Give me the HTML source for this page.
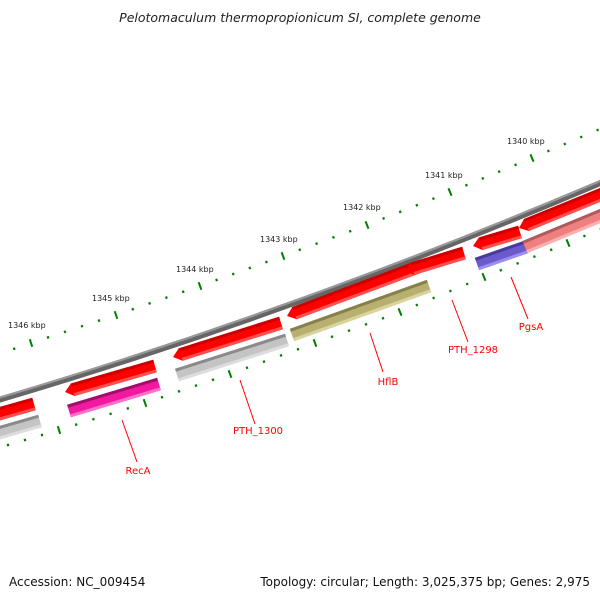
<!DOCTYPE html>
<html><head><meta charset="utf-8"><style>
html,body{margin:0;padding:0;background:#fff;}
svg{display:block;font-family:"DejaVu Sans","Liberation Sans",sans-serif;}
</style></head><body>
<svg id="s" width="600" height="600" viewBox="0 0 600 600" xmlns="http://www.w3.org/2000/svg">
<text x="300" y="22" text-anchor="middle" font-size="12.5" font-style="italic" fill="#222">Pelotomaculum thermopropionicum SI, complete genome</text>
<path d="M-5,401 Q300,311 605,181" fill="none" stroke="#666" stroke-width="6"/>
<path d="M-5,399 Q300,309 605,179" fill="none" stroke="#999" stroke-width="2"/>
<g id="genes"></g>
<g id="ticks"></g>
<g stroke="#f00" stroke-width="1">
<line x1="122" y1="420" x2="137" y2="462"/>
<line x1="240" y1="380" x2="255" y2="424"/>
<line x1="370" y1="333" x2="383" y2="372"/>
<line x1="452" y1="300" x2="468" y2="342"/>
<line x1="511" y1="277" x2="528" y2="319"/>
</g>
<g fill="#f00" font-size="10" text-anchor="middle">
<text x="138" y="474">RecA</text>
<text x="258" y="434">PTH_1300</text>
<text x="388" y="385">HflB</text>
<text x="473" y="353">PTH_1298</text>
<text x="531" y="330">PgsA</text>
</g>
<g fill="#222" font-size="8">
<text x="8" y="328">1346 kbp</text>
<text x="92" y="301">1345 kbp</text>
<text x="176" y="272">1344 kbp</text>
<text x="260" y="242">1343 kbp</text>
<text x="343" y="210">1342 kbp</text>
<text x="425" y="178">1341 kbp</text>
<text x="507" y="144">1340 kbp</text>
</g>
<text x="9" y="586" font-size="12" fill="#111">Accession: NC_009454</text>
<text x="590" y="586" font-size="12" fill="#111" text-anchor="end">Topology: circular; Length: 3,025,375 bp; Genes: 2,975</text>
</svg>
<script>
var NS="http://www.w3.org/2000/svg";
function el(p,n,a){var e=document.createElementNS(NS,n);for(var k in a)e.setAttribute(k,a[k]);p.appendChild(e);return e;}
var G=document.getElementById('genes'),T=document.getElementById('ticks');
function gene(x1,y1,x2,y2,col,dark,light,arrowLeft){
  var dx=x2-x1,dy=y2-y1,L=Math.hypot(dx,dy),ux=dx/L,uy=dy/L,nx=-uy,ny=ux;
  var h=6.5,a=arrowLeft?8:0;
  var sx=x1+ux*a,sy=y1+uy*a;
  var pts=[[sx-nx*h,sy-ny*h],[x2-nx*h,y2-ny*h],[x2+nx*h,y2+ny*h],[sx+nx*h,sy+ny*h]];
  if(arrowLeft){pts.push([x1,y1]);}
  el(G,'polygon',{points:pts.map(p=>p.join(',')).join(' '),fill:col});
  el(G,'line',{x1:sx-nx*(h-1.5),y1:sy-ny*(h-1.5),x2:x2-nx*(h-1.5),y2:y2-ny*(h-1.5),stroke:dark,'stroke-width':3});
  el(G,'line',{x1:sx+nx*(h-1.5),y1:sy+ny*(h-1.5),x2:x2+nx*(h-1.5),y2:y2+ny*(h-1.5),stroke:light,'stroke-width':3});
}
var R=['#f00','#c00','#ff5050'];
gene(-5,415,34,404,R[0],R[1],R[2],false);
gene(-5,434,40,421,'#c4c4c4','#8a8a8a','#ddd',false);
gene(65,392,155,366,R[0],R[1],R[2],true);
gene(69,411,159,384,'#f318a0','#a0106a','#ff70c8',false);
gene(173,357,281,323,R[0],R[1],R[2],true);
gene(177,375,287,340,'#c4c4c4','#8a8a8a','#ddd',false);
gene(287,316,418,267,R[0],R[1],R[2],true);
gene(405,271,464,253,R[0],R[1],R[2],true);
gene(292,335,429,286,'#b8b070','#86804a','#d8d49c',false);
gene(473,246,520,232,R[0],R[1],R[2],true);
gene(519,228,605,193,R[0],R[1],R[2],true);
gene(477,264,526,247,'#6a5acd','#4a3aa0','#9a8ef0',false);
gene(525,247,605,214,'#f08080','#b05a5a','#f8b0b0',false);
function row(majors){
  for(var i=0;i<majors.length-1;i++){
    var a=majors[i],b=majors[i+1];
    for(var k=0;k<5;k++){
      var t=k/5,x=a[0]+(b[0]-a[0])*t,y=a[1]+(b[1]-a[1])*t;
      draw(x,y,k==0,a,b);
    }
  }
  var m=majors[majors.length-1];draw(m[0],m[1],true,majors[majors.length-2],m);
}
function draw(x,y,major,a,b){
  var dx=b[0]-a[0],dy=b[1]-a[1],L=Math.hypot(dx,dy),nx=-dy/L,ny=dx/L;
  var l=major?4:1.2;
  el(T,'line',{x1:x-nx*l,y1:y-ny*l,x2:x+nx*l,y2:y+ny*l,stroke:'#008000','stroke-width':major?2:2.2});
}
row([[-53,372],[31,343],[116,315],[200,286],[283,256],[367,225],[450,192],[532,158],[614,123]]);
row([[-26,455],[59,430],[145,403],[230,374],[315,343],[400,312],[484,277],[568,243],[650,208]]);
</script>
</body></html>
